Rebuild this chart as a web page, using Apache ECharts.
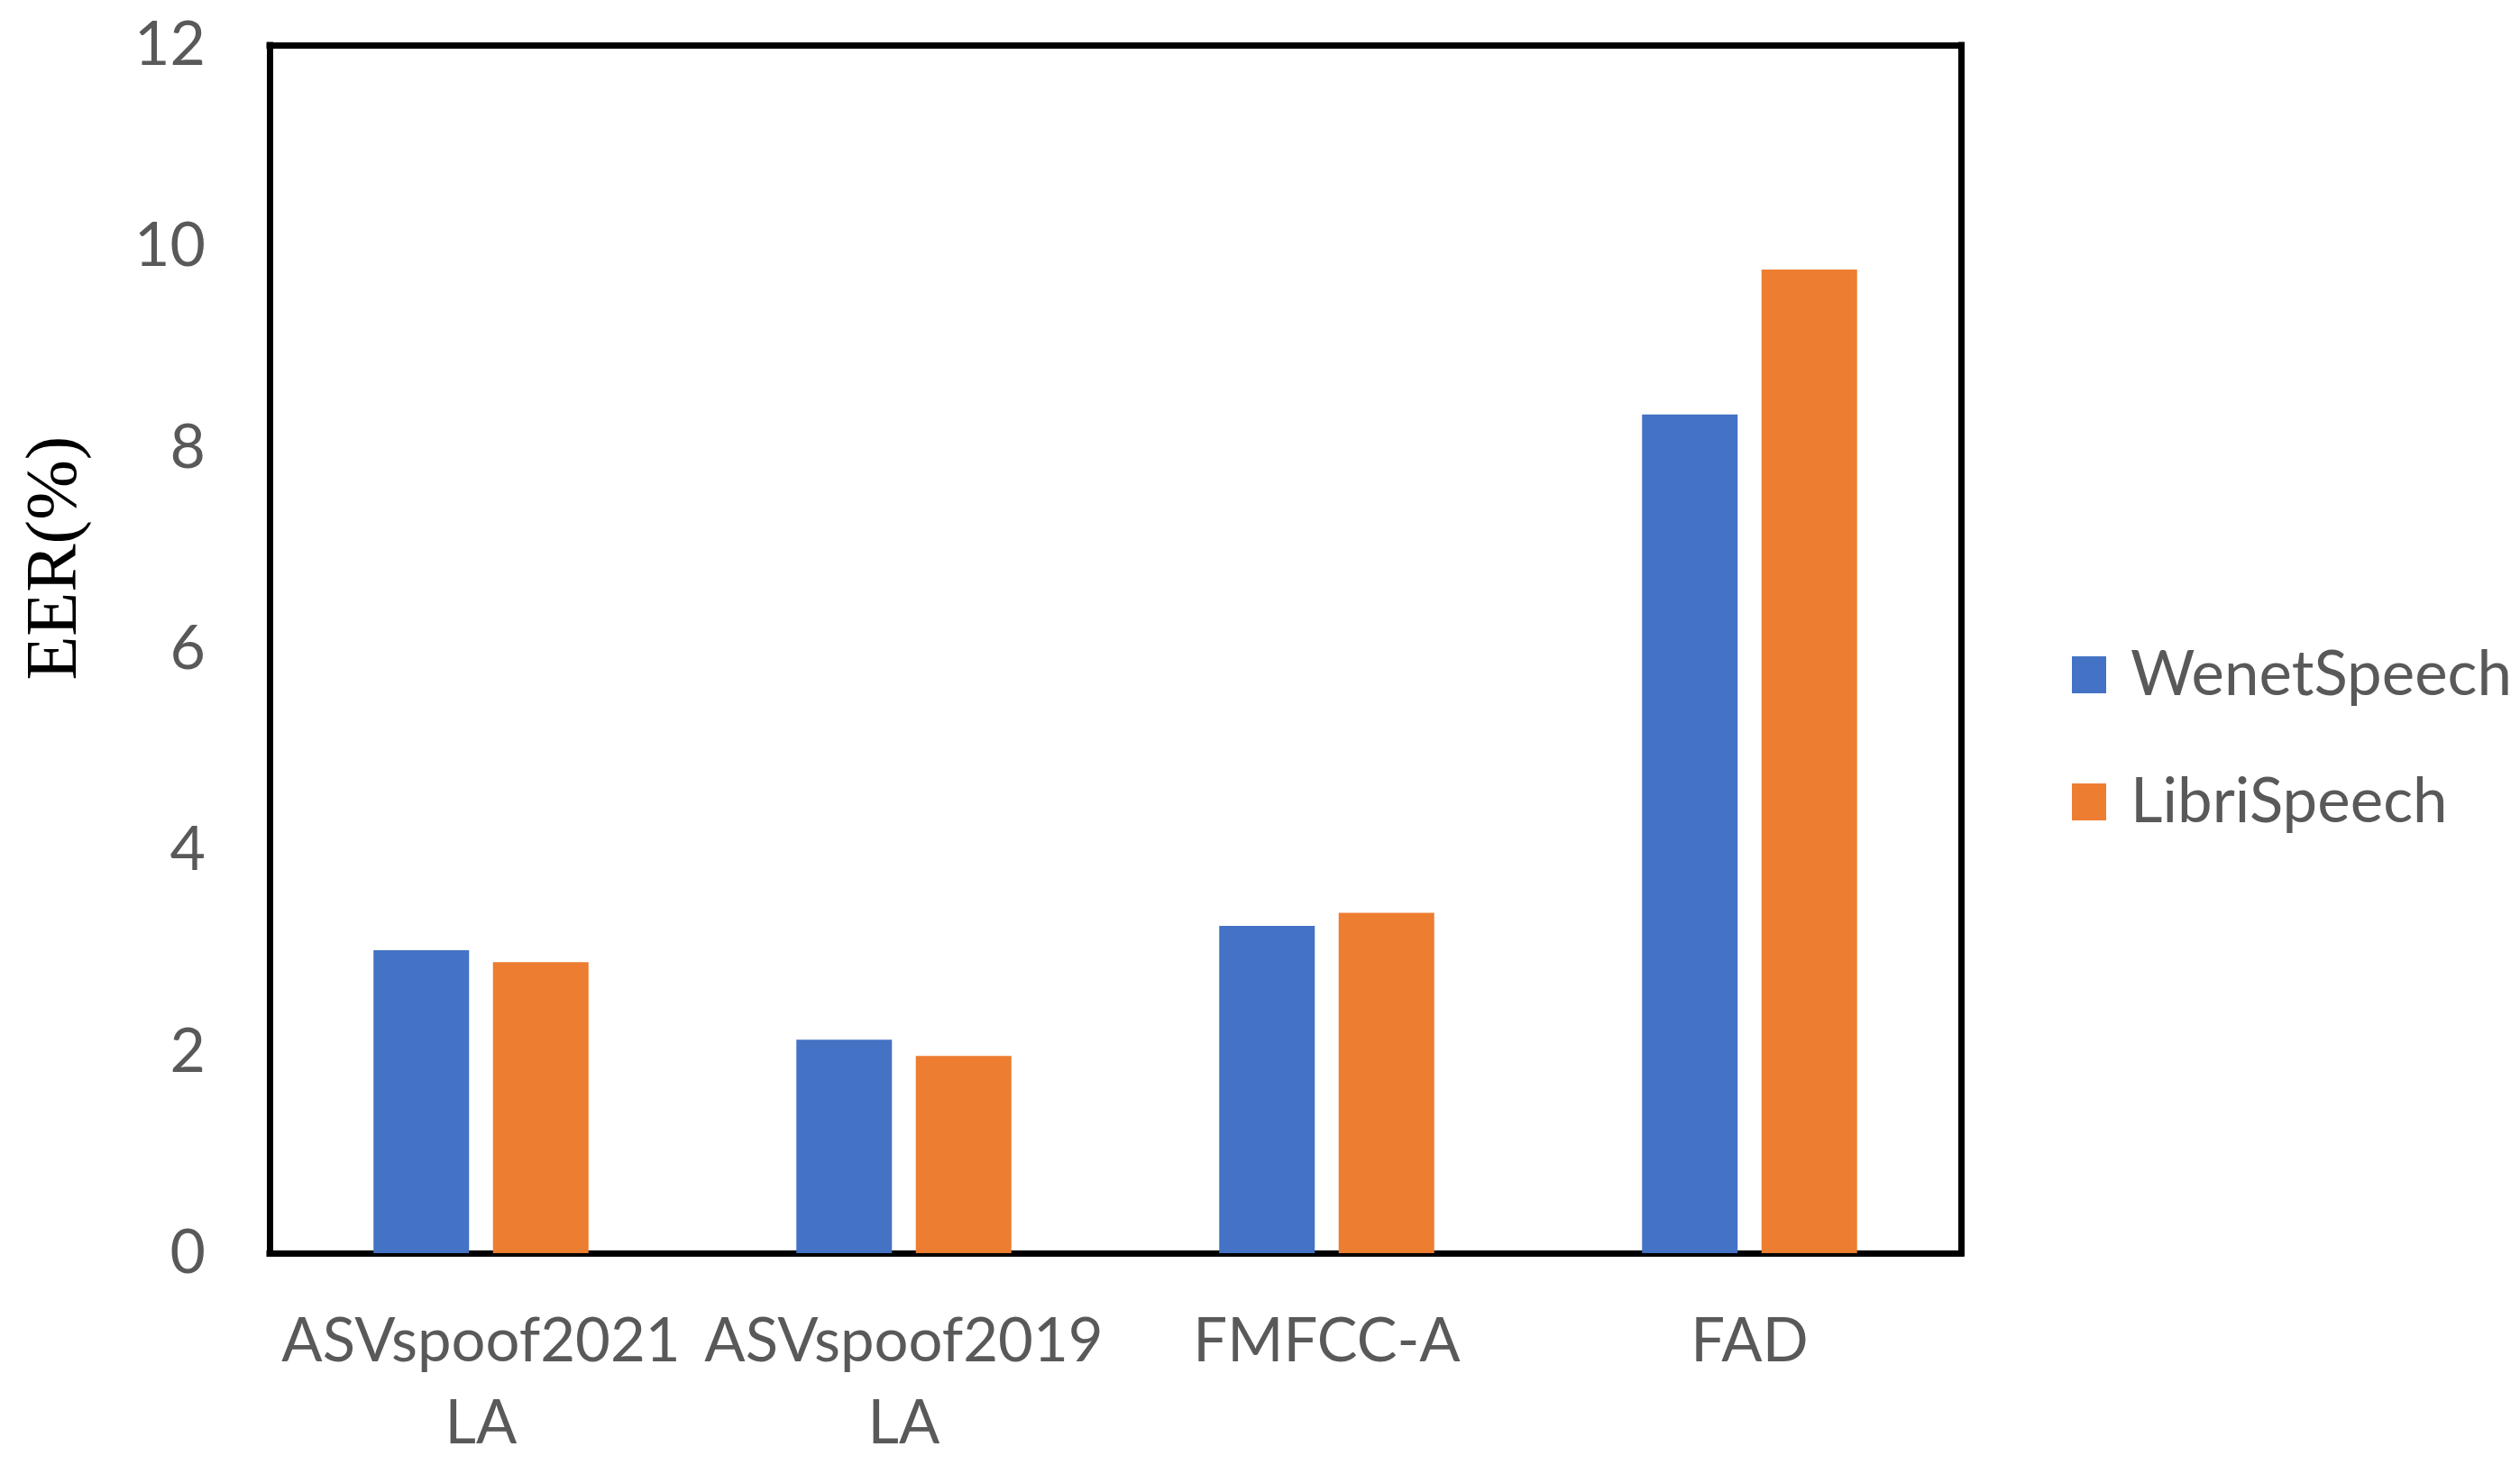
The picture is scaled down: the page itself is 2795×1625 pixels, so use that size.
<!DOCTYPE html>
<html>
<head>
<meta charset="utf-8">
<script src="https://cdn.jsdelivr.net/npm/echarts@6/dist/echarts.min.js"></script>
<style>html,body{margin:0;padding:0;background:#fff;}#c{width:2795px;height:1625px;}</style>
</head>
<body>
<div id="c"></div>
<script>
const categories = ['ASVspoof2021\nLA', 'ASVspoof2019\nLA', 'FMFCC-A', 'FAD'];
const seriesNames = ['WenetSpeech', 'LibriSpeech'];
const wenetSpeech = [3.01, 2.12, 3.25, 8.33];
const libriSpeech = [2.89, 1.96, 3.38, 9.77];
const yTicks = { min: 0, max: 12, interval: 2 };
const yTitle = 'EER(%)';

const chart = echarts.init(document.getElementById('c'), null, { renderer: 'canvas' });
const labelFont = 'Lato';
const frameLine = { show: true, onZero: false, lineStyle: { color: '#000', width: 7, cap: 'square' } };
chart.setOption({
  animation: false,
  backgroundColor: '#fff',
  grid: { left: 299, right: 620, top: 50, bottom: 234, show: false },
  legend: {
    orient: 'vertical',
    left: 2293,
    top: 709,
    itemWidth: 38,
    itemHeight: 41,
    itemGap: 72,
    icon: 'rect',
    textStyle: { fontFamily: labelFont, fontSize: 69, lineHeight: 69, color: '#595959', padding: [0, 0, 0, 22] },
    data: seriesNames
  },
  xAxis: [{
    type: 'category',
    data: categories,
    axisLine: frameLine,
    axisTick: { show: false },
    axisLabel: { interval: 0, fontFamily: labelFont, fontSize: 67, lineHeight: 91, color: '#595959', margin: 53 }
  }, {
    type: 'category',
    position: 'top',
    data: categories,
    axisLine: frameLine,
    axisTick: { show: false },
    axisLabel: { show: false }
  }],
  yAxis: [{
    type: 'value',
    min: yTicks.min, max: yTicks.max, interval: yTicks.interval,
    splitLine: { show: false },
    axisLine: frameLine,
    axisTick: { show: false },
    axisLabel: { fontFamily: labelFont, fontSize: 68, color: '#595959', margin: 71 },
    name: yTitle,
    nameLocation: 'middle',
    nameGap: 196,
    nameRotate: 90,
    nameTextStyle: { fontFamily: 'Liberation Serif', fontSize: 80, color: '#000', padding: [0, 0, 0, 202] }
  }, {
    type: 'value',
    position: 'right',
    min: yTicks.min, max: yTicks.max, interval: yTicks.interval,
    splitLine: { show: false },
    axisLine: frameLine,
    axisTick: { show: false },
    axisLabel: { show: false }
  }],
  series: [
    { name: seriesNames[0], type: 'bar', data: wenetSpeech, barWidth: '22.6%', barGap: '25%', itemStyle: { color: '#4472C4' } },
    { name: seriesNames[1], type: 'bar', data: libriSpeech, barWidth: '22.6%', barGap: '25%', itemStyle: { color: '#ED7D31' } }
  ]
});
</script>
</body>
</html>
